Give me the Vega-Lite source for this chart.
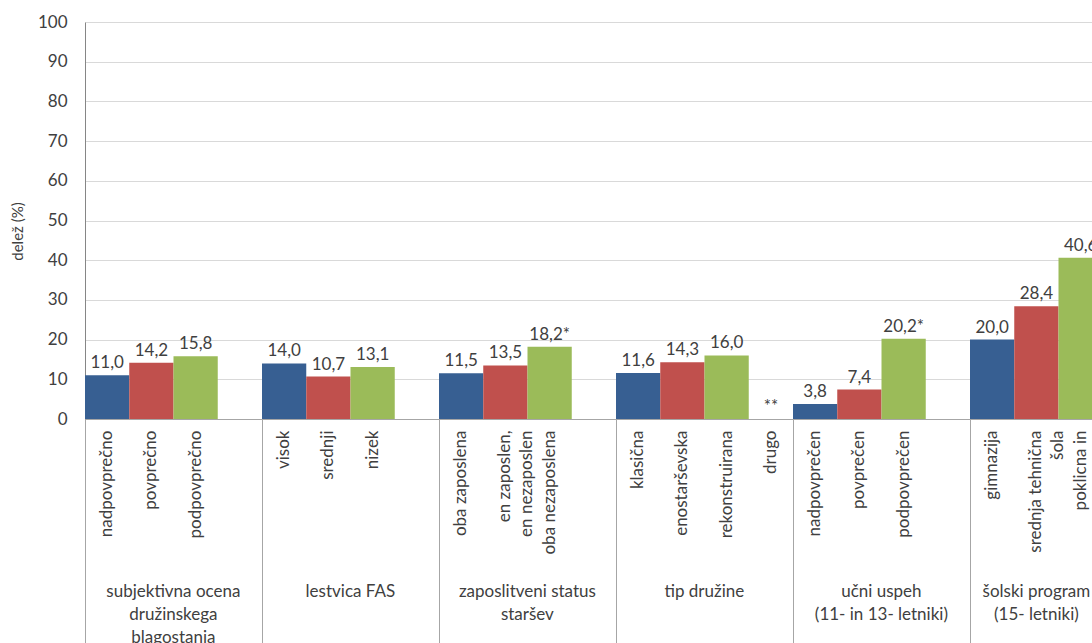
{
  "$schema": "https://vega.github.io/schema/vega-lite/v6.json",
  "autosize": "none",
  "width": 1007,
  "height": 397,
  "padding": {"left": 85, "top": 22, "right": 0, "bottom": 224},
  "background": "white",
  "config": {
    "view": {"stroke": null},
    "font": "Lato",
    "axis": {"labelFont": "Lato", "labelFontSize": 17, "labelColor": "#404040", "titleFont": "Lato", "titleFontSize": 15, "titleFontWeight": "normal", "titleColor": "#404040"}
  },
  "data": {"values": [
    {"slot": "subjektivna ocena~družinskega~blagostanja|a|nadpovprečno", "pos": "a", "value": 11.0, "label": "11,0"},
    {"slot": "subjektivna ocena~družinskega~blagostanja|b|povprečno", "pos": "b", "value": 14.2, "label": "14,2"},
    {"slot": "subjektivna ocena~družinskega~blagostanja|c|podpovprečno", "pos": "c", "value": 15.8, "label": "15,8"},
    {"slot": "subjektivna ocena~družinskega~blagostanja|d|", "pos": "d", "value": null, "label": ""},
    {"slot": "lestvica FAS|a|visok", "pos": "a", "value": 14.0, "label": "14,0"},
    {"slot": "lestvica FAS|b|srednji", "pos": "b", "value": 10.7, "label": "10,7"},
    {"slot": "lestvica FAS|c|nizek", "pos": "c", "value": 13.1, "label": "13,1"},
    {"slot": "lestvica FAS|d|", "pos": "d", "value": null, "label": ""},
    {"slot": "zaposlitveni status~staršev|a|oba zaposlena", "pos": "a", "value": 11.5, "label": "11,5"},
    {"slot": "zaposlitveni status~staršev|b|en zaposlen,~en nezaposlen", "pos": "b", "value": 13.5, "label": "13,5"},
    {"slot": "zaposlitveni status~staršev|c|oba nezaposlena", "pos": "c", "value": 18.2, "label": "18,2*"},
    {"slot": "zaposlitveni status~staršev|d|", "pos": "d", "value": null, "label": ""},
    {"slot": "tip družine|a|klasična", "pos": "a", "value": 11.6, "label": "11,6"},
    {"slot": "tip družine|b|enostarševska", "pos": "b", "value": 14.3, "label": "14,3"},
    {"slot": "tip družine|c|rekonstruirana", "pos": "c", "value": 16.0, "label": "16,0"},
    {"slot": "tip družine|d|drugo", "pos": "d", "value": null, "label": "**"},
    {"slot": "učni uspeh~(11- in 13- letniki)|a|nadpovprečen", "pos": "a", "value": 3.8, "label": "3,8"},
    {"slot": "učni uspeh~(11- in 13- letniki)|b|povprečen", "pos": "b", "value": 7.4, "label": "7,4"},
    {"slot": "učni uspeh~(11- in 13- letniki)|c|podpovprečen", "pos": "c", "value": 20.2, "label": "20,2*"},
    {"slot": "učni uspeh~(11- in 13- letniki)|d|", "pos": "d", "value": null, "label": ""},
    {"slot": "šolski program~(15- letniki)|a|gimnazija", "pos": "a", "value": 20.0, "label": "20,0"},
    {"slot": "šolski program~(15- letniki)|b|srednja tehnična~šola", "pos": "b", "value": 28.4, "label": "28,4"},
    {"slot": "šolski program~(15- letniki)|c|poklicna in~nižjepoklicna šola", "pos": "c", "value": 40.6, "label": "40,6"}
  ]},
  "layer": [
    {
      "mark": {"type": "bar", "invalid": "show", "clip": true},
      "encoding": {
        "x": {
          "field": "slot", "type": "nominal", "sort": null,
          "scale": {"range": [0, 1017.75], "paddingInner": 0, "paddingOuter": 0},
          "axis": {
            "orient": "bottom",
            "title": null, "grid": false, "ticks": false, "tickSize": 0,
            "domain": true, "domainColor": "#A6A6A6", "domainWidth": 1,
            "labelAngle": -90, "labelAlign": "right", "labelBaseline": "middle",
            "labelPadding": 11, "labelFontSize": 17, "labelColor": "#404040",
            "labelLineHeight": 22, "labelOverlap": false, "labelLimit": 400,
            "labelExpr": "split(split(datum.value, '|')[2], '~')"
          }
        },
        "y": {
          "field": "value", "type": "quantitative",
          "scale": {"domain": [0, 100], "nice": false},
          "axis": {
            "orient": "left",
            "values": [0, 10, 20, 30, 40, 50, 60, 70, 80, 90, 100],
            "labelOverlap": false,
            "grid": true, "gridColor": "#D9D9D9", "gridWidth": 1,
            "ticks": false, "tickSize": 0,
            "domain": true, "domainColor": "#868686",
            "labelFontSize": 17, "labelColor": "#404040", "labelPadding": 18,
            "title": "delež (%)", "titleFontSize": 15, "titleFontWeight": "normal",
            "titleColor": "#404040", "titlePadding": 12, "titleY": 209
          }
        },
        "color": {
          "field": "pos", "type": "nominal",
          "scale": {"domain": ["a", "b", "c", "d"], "range": ["#375F92", "#C0504D", "#9BBB59", "#FFFFFF"]},
          "legend": null
        }
      }
    },
    {
      "mark": {"type": "text", "invalid": "show", "baseline": "alphabetic", "dy": -7, "fontSize": 17, "color": "#404040", "font": "Lato"},
      "encoding": {
        "x": {
          "field": "slot", "type": "nominal", "sort": null,
          "scale": {"range": [0, 1017.75], "paddingInner": 0, "paddingOuter": 0},
          "axis": {
            "orient": "bottom",
            "title": null, "grid": false, "gridOpacity": 0, "labels": false, "domain": false,
            "ticks": true, "tickSize": 240, "tickWidth": 1,
            "bandPosition": 0,
            "tickColor": {"condition": {"test": "split(datum.value, '|')[1] == 'a'", "value": "#A6A6A6"}, "value": "transparent"}
          }
        },
        "y": {
          "field": "value", "type": "quantitative",
          "scale": {"domain": [0, 100], "nice": false},
          "axis": {
            "orient": "left",
            "values": [0, 10, 20, 30, 40, 50, 60, 70, 80, 90, 100],
            "labelOverlap": false,
            "grid": true, "gridColor": "#D9D9D9", "gridWidth": 1,
            "ticks": false, "tickSize": 0,
            "domain": true, "domainColor": "#868686",
            "labelFontSize": 17, "labelColor": "#404040", "labelPadding": 18,
            "title": "delež (%)", "titleFontSize": 15, "titleFontWeight": "normal",
            "titleColor": "#404040", "titlePadding": 12, "titleY": 209
          }
        },
        "text": {"field": "label"}
      }
    },
    {
      "mark": {"type": "tick", "opacity": 0},
      "encoding": {
        "x": {
          "field": "slot", "type": "nominal", "sort": null,
          "scale": {"range": [0, 1017.75], "paddingInner": 0, "paddingOuter": 0},
          "axis": {
            "orient": "bottom",
            "title": null, "grid": false, "domain": false, "ticks": false, "tickSize": 0,
            "labelAngle": 0, "labelAlign": "center", "labelBaseline": "top",
            "labelOffset": {"condition": {"test": "indexof(datum.value, 'šolski') == 0", "value": 0}, "value": 22},
            "labelPadding": 164, "labelFontSize": 17, "labelColor": "#404040",
            "labelLineHeight": 23, "labelOverlap": false, "labelBound": false, "labelFlush": false,
            "labelLimit": 400,
            "labelExpr": "split(datum.value, '|')[1] == 'b' ? split(split(datum.value, '|')[0], '~') : ''"
          }
        }
      }
    }
  ],
  "resolve": {"axis": {"x": "independent"}}
}
